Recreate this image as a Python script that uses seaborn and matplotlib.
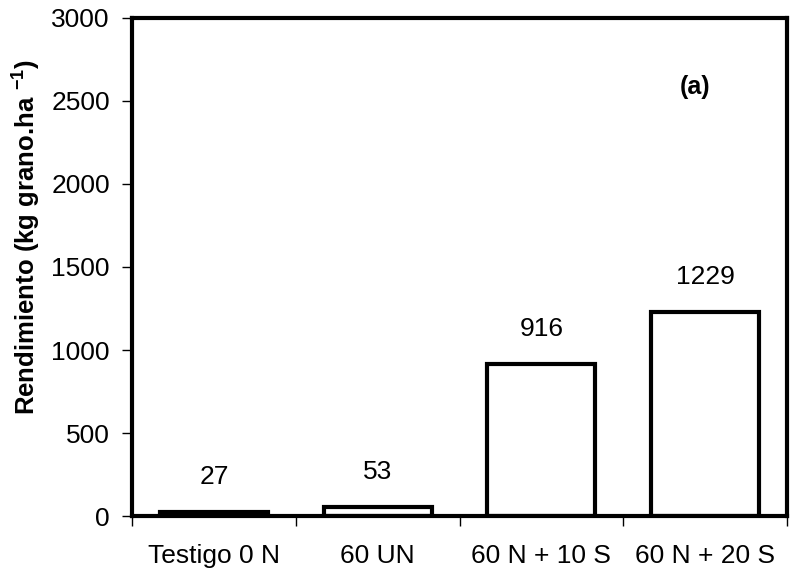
import matplotlib
matplotlib.use("Agg")
import matplotlib.pyplot as plt
import seaborn as sns
import pandas as pd
from matplotlib.ticker import FixedLocator

# Yield per treatment
tratamientos = ["Testigo 0 N", "60 UN", "60 N + 10 S", "60 N + 20 S"]
rendimiento = [27, 53, 916, 1229]
y_ticks = [0, 500, 1000, 1500, 2000, 2500, 3000]

sns.set_theme(style="white")
plt.rcParams["font.family"] = ["Liberation Sans", "DejaVu Sans"]
plt.rcParams["text.color"] = "black"
plt.rcParams["axes.labelcolor"] = "black"
plt.rcParams["xtick.color"] = "black"
plt.rcParams["ytick.color"] = "black"
plt.rcParams["mathtext.fontset"] = "custom"
plt.rcParams["mathtext.rm"] = "Liberation Sans"
plt.rcParams["mathtext.bf"] = "Liberation Sans:bold"

df = pd.DataFrame({"trat": tratamientos, "rend": rendimiento})

fig = plt.figure(figsize=(7.93, 5.71), dpi=100)
ax = fig.add_axes([0.1665, 0.0963, 0.8259, 0.8722])

sns.barplot(data=df, x="trat", y="rend", ax=ax, color="white",
            edgecolor="black", linewidth=3, width=0.66, saturation=1)

FS = 19
ax.set_xlim(-0.5, 3.5)
ax.set_ylim(0, 3000)
ax.set_yticks(y_ticks)
ax.set_yticklabels([str(t) for t in y_ticks], fontsize=FS)
ax.set_xticks(range(len(tratamientos)))
ax.set_xticklabels(tratamientos, fontsize=FS)
ax.xaxis.set_minor_locator(FixedLocator([-0.5, 0.5, 1.5, 2.5, 3.5]))
ax.tick_params(axis="x", which="major", length=0, pad=20)
ax.tick_params(axis="x", which="minor", bottom=True, length=7, width=1,
               direction="out", color="black")
ax.tick_params(axis="y", which="major", left=True, length=7, width=1,
               direction="out", color="black", pad=9)

for side in ["left", "right", "top", "bottom"]:
    ax.spines[side].set_visible(True)
    ax.spines[side].set_color("black")
    ax.spines[side].set_linewidth(3)

ax.set_xlabel("")
ax.set_ylabel(r"Rendimiento (kg grano.ha $^{\mathregular{-1}}$)", fontsize=18.5,
              fontweight="bold")
ax.yaxis.set_label_coords(-0.137, 0.56)

for i, v in enumerate(rendimiento):
    ax.annotate(str(v), (i, v), xytext=(0, 25), textcoords="offset points",
                ha="center", va="center", fontsize=FS)

ax.text(0.86, 0.861, "(a)", transform=ax.transAxes, fontsize=18,
        fontweight="bold", ha="center", va="center")

fig.savefig("out.png", dpi=100)
